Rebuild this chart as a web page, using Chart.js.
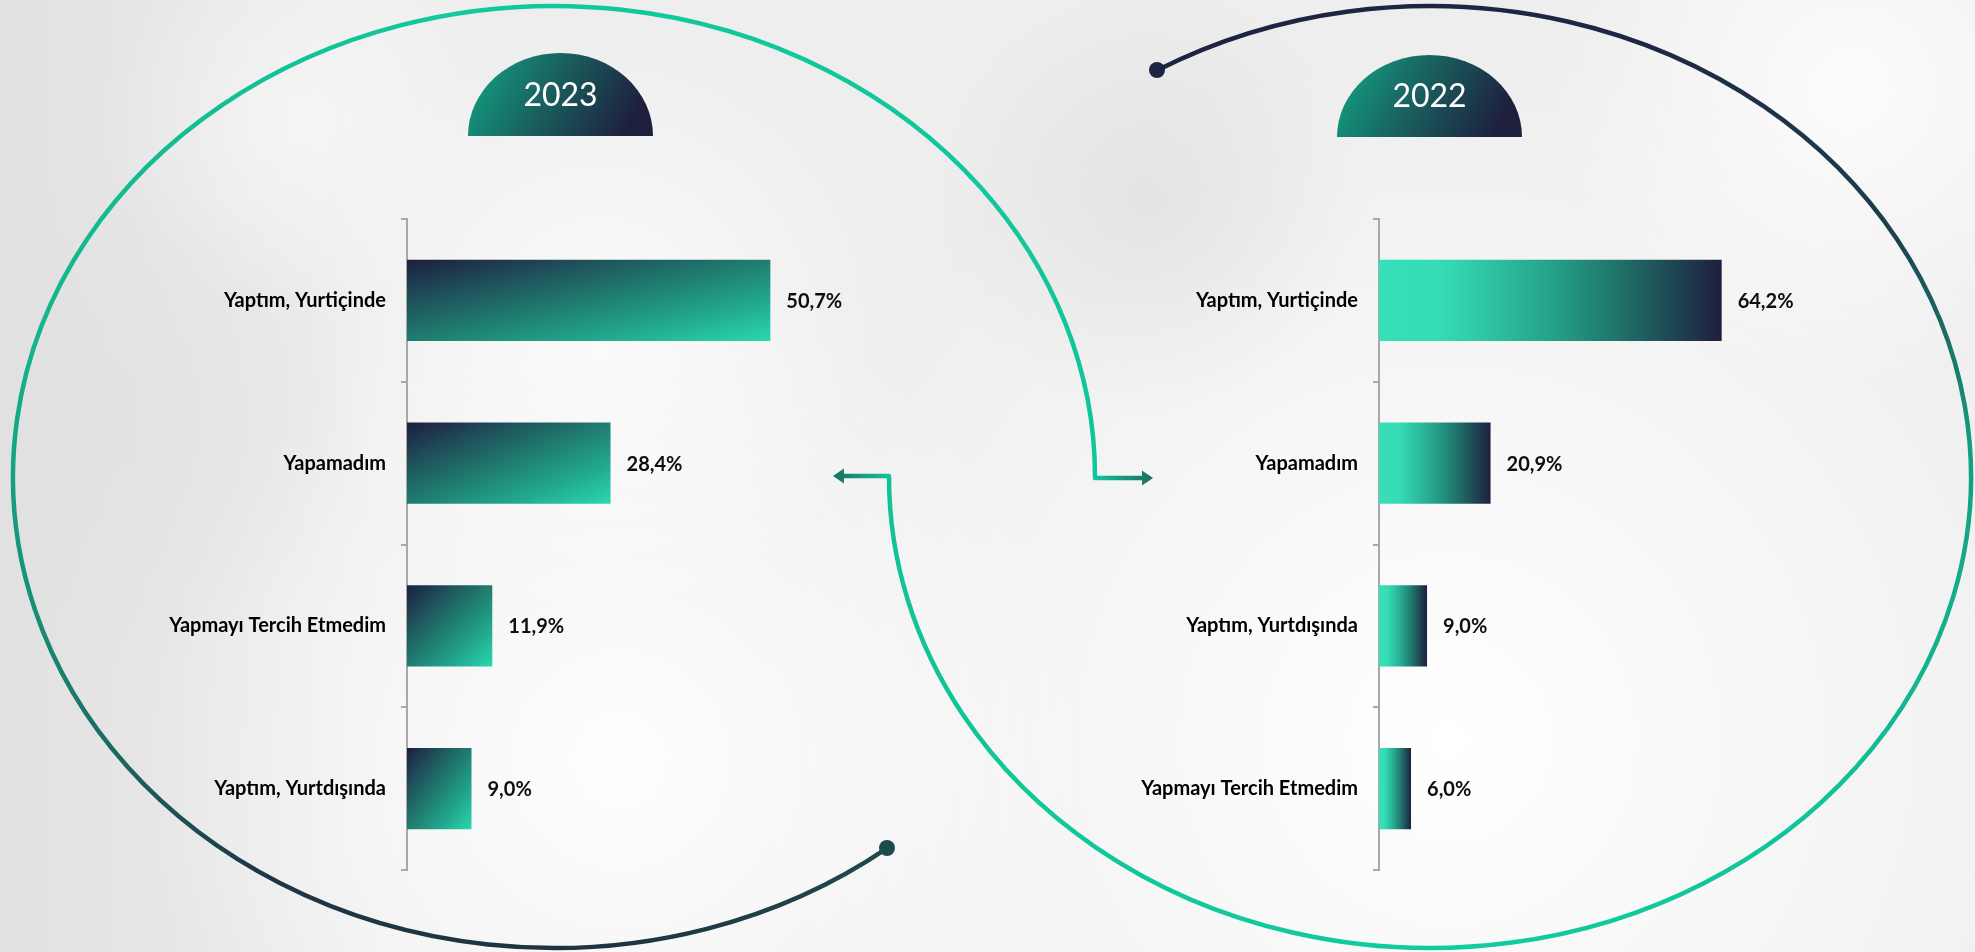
<!doctype html>
<html>
<head>
<meta charset="utf-8">
<script src="https://cdn.jsdelivr.net/npm/chart.js@4"></script>
<style>
  html, body { margin: 0; padding: 0; width: 1975px; height: 952px; overflow: hidden; background: #f2f2f2; }
  #bg { position: absolute; left: 0; top: 0; }
  .box { position: absolute; }
  #box23 { left: 150px; top: 189px; width: 760px; height: 711px; }
  #box22 { left: 1100px; top: 189px; width: 785px; height: 711px; }
</style>
</head>
<body>
<canvas id="bg" width="1975" height="952"></canvas>
<div class="box" id="box23"><canvas id="c23"></canvas></div>
<div class="box" id="box22"><canvas id="c22"></canvas></div>
<script>
// data
const labels2023 = ['Yaptım, Yurtiçinde', 'Yapamadım', 'Yapmayı Tercih Etmedim', 'Yaptım, Yurtdışında'];
const values2023 = [50.7, 28.4, 11.9, 9.0];
const labels2022 = ['Yaptım, Yurtiçinde', 'Yapamadım', 'Yaptım, Yurtdışında', 'Yapmayı Tercih Etmedim'];
const values2022 = [64.2, 20.9, 9.0, 6.0];
const years = ['2023', '2022'];
const axisMax2023 = 60;
const axisMax2022 = 80;

// ---------- backdrop: blurred photo, arcs, year badges ----------
const bg = document.getElementById('bg').getContext('2d');

function blob(ctx, x, y, r, col) {
  const g = ctx.createRadialGradient(x, y, 0, x, y, r);
  g.addColorStop(0, col);
  g.addColorStop(1, col.replace(/[\d.]+\)$/, '0)'));
  ctx.fillStyle = g;
  ctx.fillRect(x - r, y - r, r * 2, r * 2);
}

function drawBackdrop(ctx) {
  ctx.fillStyle = '#eeeeee';
  ctx.fillRect(0, 0, 1975, 952);
  const side = ctx.createLinearGradient(0, 0, 380, 0);
  side.addColorStop(0, 'rgba(222,222,222,0.8)');
  side.addColorStop(1, 'rgba(222,222,222,0)');
  ctx.fillStyle = side;
  ctx.fillRect(0, 0, 380, 952);
  blob(ctx, 1450, 740, 700, 'rgba(255,255,255,1)');
  blob(ctx, 620, 760, 480, 'rgba(255,255,255,0.95)');
  blob(ctx, 1850, 90, 300, 'rgba(255,255,255,0.85)');
  blob(ctx, 600, 330, 300, 'rgba(255,255,255,0.75)');
  blob(ctx, 300, 120, 200, 'rgba(255,255,255,0.5)');
  blob(ctx, 1150, 200, 220, 'rgba(220,220,220,0.6)');
  blob(ctx, 100, 420, 260, 'rgba(224,224,224,0.6)');
}

function arc(ctx, cx, cy, rx, ry, dot, end, stops) {
  const a0 = Math.atan2((dot[1] - cy) / ry, (dot[0] - cx) / rx);
  const g = ctx.createConicGradient(a0 - 0.08, cx, cy);
  stops.forEach(s => g.addColorStop(s[0], s[1]));
  ctx.save();
  ctx.strokeStyle = g;
  ctx.lineWidth = 4.5;
  ctx.lineCap = 'round';
  ctx.beginPath();
  ctx.ellipse(cx, cy, rx, ry, 0, a0, end);
  ctx.stroke();
  ctx.restore();
}

function arrow(ctx, x0, y, x1, dir) {
  const g = ctx.createLinearGradient(x0, y, x1, y);
  g.addColorStop(0, '#12c49a');
  g.addColorStop(1, '#1a6e62');
  ctx.save();
  ctx.strokeStyle = g;
  ctx.fillStyle = g;
  ctx.lineWidth = 4.5;
  ctx.lineCap = 'round';
  ctx.beginPath();
  ctx.moveTo(x0, y);
  ctx.lineTo(x1 - dir * 8, y);
  ctx.stroke();
  ctx.beginPath();
  ctx.moveTo(x1, y);
  ctx.lineTo(x1 - dir * 11, y - 7.5);
  ctx.lineTo(x1 - dir * 11, y + 7.5);
  ctx.closePath();
  ctx.fill();
  ctx.restore();
}

function dot(ctx, x, y, col) {
  ctx.fillStyle = col;
  ctx.beginPath();
  ctx.arc(x, y, 8, 0, Math.PI * 2);
  ctx.fill();
}

function badge(ctx, cx, bottom, rx, ry, text) {
  const g = ctx.createLinearGradient(cx - rx, bottom - ry, cx + rx * 0.7, bottom);
  g.addColorStop(0, '#12a887');
  g.addColorStop(0.5, '#19605f');
  g.addColorStop(1, '#1e1f3d');
  ctx.fillStyle = g;
  ctx.beginPath();
  ctx.ellipse(cx, bottom, rx, ry, 0, Math.PI, Math.PI * 2);
  ctx.closePath();
  ctx.fill();
  ctx.fillStyle = '#ffffff';
  ctx.font = '400 32px Lato';
  ctx.textAlign = 'center';
  ctx.textBaseline = 'middle';
  ctx.fillText(text, cx, bottom - 40);
}

drawBackdrop(bg);
// left ring (2023)
arc(bg, 554, 477, 541, 471, [887, 848], Math.PI * 2, [
  [0, '#1f4a4d'], [0.1, '#1e3341'], [0.22, '#1e3645'], [0.32, '#178a74'],
  [0.41, '#13b58c'], [0.58, '#10c99c'], [1, '#12c49a']
]);
arrow(bg, 1095, 478, 1153, 1);
// right ring (2022)
arc(bg, 1430, 477, 541, 471, [1157, 70], Math.PI, [
  [0, '#1e2340'], [0.17, '#1e2743'], [0.27, '#1e3f4c'], [0.34, '#14a080'],
  [0.46, '#10c49a'], [0.58, '#10cc9e'], [1, '#12bc92']
]);
arrow(bg, 889, 476, 833, -1);
dot(bg, 887, 848, '#1f4a4d');
dot(bg, 1157, 70, '#1e2440');
badge(bg, 560.5, 136, 92.5, 83, years[0]);
badge(bg, 1429.5, 137, 92.5, 82, years[1]);

// ---------- charts ----------
function barGeom(c) {
  const chart = c.chart;
  const xs = chart.scales.x, ys = chart.scales.y;
  if (c.dataIndex === undefined || !xs || !ys || !chart.chartArea) return null;
  const x0 = xs.getPixelForValue(0);
  const x1 = xs.getPixelForValue(c.raw);
  const step = Math.abs(ys.getPixelForValue(1) - ys.getPixelForValue(0));
  const yc = ys.getPixelForValue(c.dataIndex);
  return { x0, x1, y0: yc - step / 4, y1: yc + step / 4 };
}

function diagFill(c) {
  const b = barGeom(c);
  if (!b) return '#1f7f70';
  const w = b.x1 - b.x0, h = b.y1 - b.y0;
  const k = 2 * w * h / (w * w + h * h);
  const g = c.chart.ctx.createLinearGradient(b.x0, b.y0, b.x0 + h * k, b.y0 + w * k);
  g.addColorStop(0, '#1d1e3e');
  g.addColorStop(0.25, '#1f4f5a');
  g.addColorStop(0.5, '#1f7d70');
  g.addColorStop(0.75, '#22a88e');
  g.addColorStop(1, '#2ad8b0');
  return g;
}

function sideFill(c) {
  const b = barGeom(c);
  if (!b) return '#24a189';
  const g = c.chart.ctx.createLinearGradient(b.x0, 0, b.x1, 0);
  g.addColorStop(0, '#36e0b9');
  g.addColorStop(0.18, '#35dcb6');
  g.addColorStop(0.5, '#25a28a');
  g.addColorStop(0.72, '#1f6d67');
  g.addColorStop(1, '#1e1f3f');
  return g;
}

const valueLabels = {
  id: 'valueLabels',
  afterDatasetsDraw(chart) {
    const ctx = chart.ctx;
    const meta = chart.getDatasetMeta(0);
    ctx.save();
    ctx.font = '700 20px Lato';
    ctx.fillStyle = '#0d0d0d';
    ctx.textAlign = 'left';
    ctx.textBaseline = 'middle';
    meta.data.forEach((bar, i) => {
      const v = chart.data.datasets[0].data[i];
      ctx.fillText(v.toFixed(1).replace('.', ',') + '%', bar.x + 16, bar.y + 1);
    });
    ctx.restore();
  }
};

function makeChart(id, labels, values, max, axisWidth, rightPad, fill) {
  return new Chart(document.getElementById(id), {
    type: 'bar',
    data: {
      labels: labels,
      datasets: [{ data: values, backgroundColor: fill, borderWidth: 0, categoryPercentage: 1, barPercentage: 0.5 }]
    },
    options: {
      indexAxis: 'y',
      responsive: true,
      maintainAspectRatio: false,
      animation: false,
      events: [],
      layout: { padding: { top: 30, bottom: 30, left: 0, right: rightPad } },
      plugins: { legend: { display: false }, tooltip: { enabled: false } },
      scales: {
        x: { display: false, min: 0, max: max },
        y: {
          afterFit(s) { s.width = axisWidth; s.paddingTop = 0; s.paddingBottom = 0; },
          border: { display: true, color: '#a8a8a8', width: 2 },
          grid: { display: true, offset: true, drawOnChartArea: false, drawTicks: true, tickLength: 6, color: '#a8a8a8', lineWidth: 2 },
          ticks: { color: '#000', font: { family: 'Lato', weight: '700', size: 20 }, padding: 15 }
        }
      }
    },
    plugins: [valueLabels]
  });
}

makeChart('c23', labels2023, values2023, axisMax2023, 257, 73, diagFill);
makeChart('c22', labels2022, values2022, axisMax2022, 279, 79, sideFill);
</script>
</body>
</html>
